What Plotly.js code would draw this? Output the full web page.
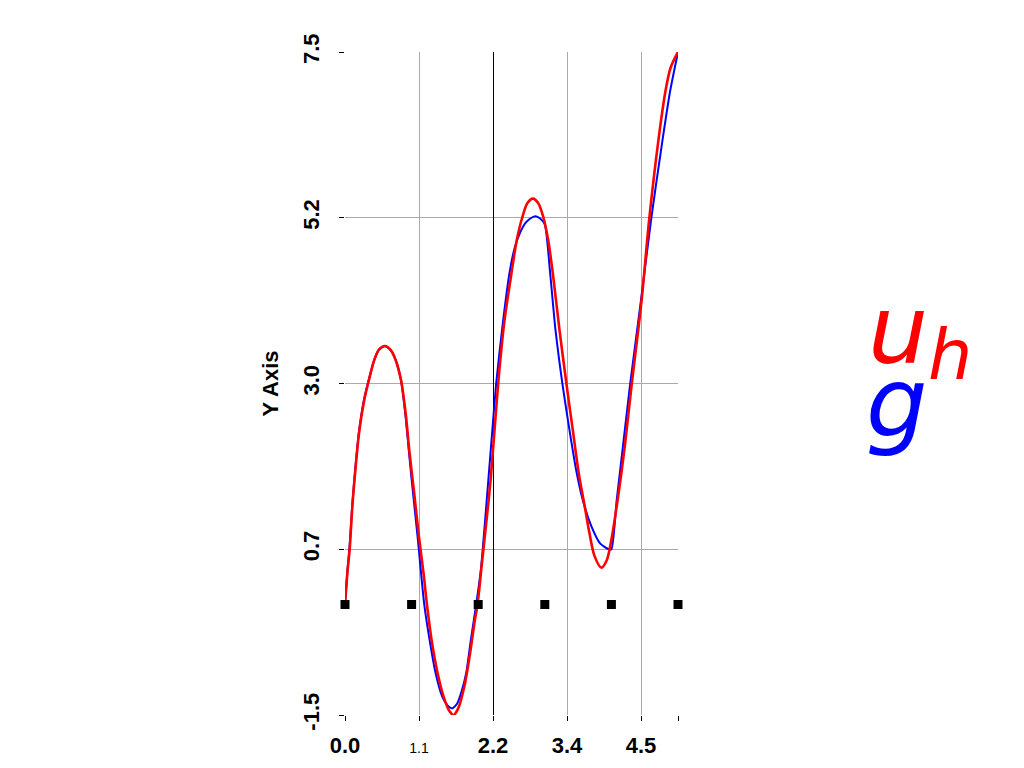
<!DOCTYPE html>
<html>
<head>
<meta charset="utf-8">
<script src="https://cdn.plot.ly/plotly-3.0.1.min.js"></script>
<style>
  html, body { margin: 0; padding: 0; background: #fff; }
  #graph { width: 1024px; height: 768px; }
</style>
</head>
<body>
<div id="graph"></div>
<script>
// values
var uhX = [0.00, 0.035, 0.07, 0.11, 0.16, 0.21, 0.29, 0.36, 0.44, 0.51, 0.60, 0.69, 0.76, 0.84,
           0.91, 0.97, 1.04, 1.11, 1.18, 1.23, 1.30, 1.39, 1.48, 1.57, 1.63, 1.70, 1.79, 1.87,
           1.95, 1.99, 2.05, 2.12, 2.19, 2.30, 2.39, 2.50, 2.58, 2.66, 2.74, 2.82, 2.90, 2.98,
           3.05, 3.12, 3.22, 3.33, 3.42, 3.51, 3.60, 3.67, 3.75, 3.85, 3.93, 4.00, 4.10, 4.20,
           4.30, 4.45, 4.57, 4.70, 4.81, 4.89, 5.00];
var uhY = [0.00, 0.42, 0.75, 1.33, 1.87, 2.32, 2.78, 3.05, 3.32, 3.46, 3.51, 3.45, 3.32, 3.05,
           2.60, 2.05, 1.50, 0.92, 0.42, 0.00, -0.48, -0.93, -1.25, -1.45, -1.50, -1.41, -1.12, -0.71,
           -0.21, 0.00, 0.51, 1.10, 1.73, 3.00, 3.82, 4.50, 4.95, 5.25, 5.45, 5.51, 5.45, 5.25,
           4.95, 4.50, 3.73, 2.96, 2.37, 1.78, 1.33, 0.97, 0.65, 0.50, 0.60, 0.88, 1.46, 2.14,
           2.95, 4.10, 5.25, 6.26, 6.96, 7.29, 7.50];

var gX = [0.00, 0.035, 0.07, 0.11, 0.16, 0.21, 0.29, 0.36, 0.44, 0.51, 0.60, 0.69, 0.76, 0.84,
          0.91, 0.97, 1.00, 1.09, 1.19, 1.27, 1.36, 1.46, 1.54, 1.61, 1.68, 1.75, 1.82, 1.89,
          1.97, 2.04, 2.10, 2.20, 2.27, 2.37, 2.47, 2.55, 2.63, 2.72, 2.80, 2.86, 2.93, 3.00,
          3.08, 3.16, 3.27, 3.37, 3.47, 3.57, 3.70, 3.83, 3.96, 4.00, 4.08, 4.18, 4.28, 4.44,
          4.60, 4.76, 4.88, 5.00];
var gY = [0.00, 0.45, 0.80, 1.36, 1.90, 2.35, 2.80, 3.06, 3.32, 3.46, 3.51, 3.45, 3.32, 3.05,
          2.55, 1.98, 1.70, 0.92, 0.00, -0.48, -0.93, -1.25, -1.37, -1.41, -1.35, -1.18, -0.93, -0.48,
          0.00, 0.47, 1.10, 2.23, 3.00, 3.82, 4.50, 4.85, 5.05, 5.19, 5.25, 5.27, 5.24, 5.16,
          4.50, 3.73, 2.96, 2.37, 1.83, 1.42, 1.06, 0.83, 0.75, 0.75, 1.42, 2.20, 2.98, 4.10,
          5.25, 6.26, 6.96, 7.50];

var nodesX = [0, 1, 2, 3, 4, 5];
var nodesY = [0, 0, 0, 0, 0, 0];

var xTicks = [0, 10 / 9, 20 / 9, 30 / 9, 40 / 9];
var xTickText = ['0.0', '<span style="font-size:14px;font-weight:normal">1.1</span>', '2.2', '3.4', '4.5'];
var yTicks = [-1.5, 0.75, 3.0, 5.25, 7.5];
var yTickText = ['-1.5', '0.7', '3.0', '5.2', '7.5'];

var labelFamily = 'Liberation Sans, Arial, sans-serif';
var tickFont = { family: labelFamily, size: 22, color: '#000', weight: 'bold' };
var bigFont = 'DejaVu Sans, Verdana, sans-serif';

var traces = [
  {
    x: gX, y: gY, mode: 'lines', type: 'scatter', name: 'g',
    line: { color: '#0000ff', width: 2, shape: 'spline', smoothing: 0.6 },
    showlegend: false, hoverinfo: 'skip'
  },
  {
    x: uhX, y: uhY, mode: 'lines', type: 'scatter', name: 'u_h',
    line: { color: '#ff0000', width: 2.6, shape: 'spline', smoothing: 0.9 },
    showlegend: false, hoverinfo: 'skip'
  },
  {
    x: nodesX, y: nodesY, mode: 'markers', type: 'scatter', name: 'nodes',
    xaxis: 'x2',
    marker: { symbol: 'square', size: 9, color: '#000' },
    cliponaxis: false, showlegend: false, hoverinfo: 'skip'
  }
];

var layout = {
  width: 1024,
  height: 768,
  margin: { l: 345, r: 346, t: 52, b: 53 },
  paper_bgcolor: '#fff',
  plot_bgcolor: '#fff',
  showlegend: false,
  xaxis: {
    range: [0, 5],
    tickmode: 'array',
    tickvals: xTicks,
    ticktext: xTickText,
    tickfont: tickFont,
    ticks: 'outside',
    ticklen: 5,
    tickcolor: '#000',
    ticklabelstandoff: 6,
    showgrid: true,
    gridcolor: '#aaaaaa',
    gridwidth: 1,
    zeroline: false,
    showline: false,
    minor: { tickvals: [5], ticks: 'outside', ticklen: 5, tickcolor: '#000', showgrid: false }
  },
  // overlay axis only used to draw the dark grid line at the third tick
  xaxis2: {
    overlaying: 'x',
    anchor: 'y',
    side: 'bottom',
    range: [0, 5],
    tickmode: 'array',
    tickvals: [xTicks[2]],
    showticklabels: false,
    ticks: '',
    showgrid: true,
    gridcolor: '#000',
    gridwidth: 1,
    zeroline: false,
    showline: false
  },
  yaxis: {
    range: [-1.5, 7.5],
    tickmode: 'array',
    tickvals: yTicks,
    ticktext: yTickText,
    tickfont: tickFont,
    tickangle: -90,
    ticks: 'outside',
    ticklen: 5,
    tickcolor: '#000',
    ticklabelstandoff: 11,
    showgrid: true,
    gridcolor: '#aaaaaa',
    gridwidth: 1,
    zeroline: false,
    showline: false,
    title: { text: 'Y Axis', font: { family: labelFamily, size: 22, color: '#000', weight: 'bold' }, standoff: 14 }
  },
  annotations: [
    { text: 'u', xref: 'paper', yref: 'paper', x: 1.565, y: 0.581, xanchor: 'left', yanchor: 'middle',
      showarrow: false, font: { family: bigFont, size: 95, color: '#ff0000', style: 'italic' } },
    { text: 'h', xref: 'paper', yref: 'paper', x: 1.745, y: 0.543, xanchor: 'left', yanchor: 'middle',
      showarrow: false, font: { family: bigFont, size: 70, color: '#ff0000', style: 'italic' } },
    { text: 'g', xref: 'paper', yref: 'paper', x: 1.559, y: 0.472, xanchor: 'left', yanchor: 'middle',
      showarrow: false, font: { family: bigFont, size: 97, color: '#0000ff', style: 'italic' } }
  ]
};

Plotly.newPlot('graph', traces, layout, { staticPlot: true });
</script>
</body>
</html>
